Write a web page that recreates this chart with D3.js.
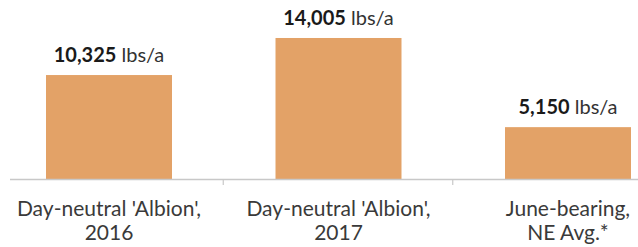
<!DOCTYPE html>
<html>
<head>
<meta charset="utf-8">
<script src="https://cdn.jsdelivr.net/npm/d3@7"></script>
<style>
  html, body { margin: 0; padding: 0; background: #fff; }
  svg { display: block; font-family: Lato, "Open Sans", sans-serif; }
</style>
</head>
<body>
<svg id="chart" width="638" height="247"></svg>
<script>
// data
const categories = ["Day-neutral 'Albion', 2016", "Day-neutral 'Albion', 2017", "June-bearing, NE Avg.*"];
const labelLines = [["Day-neutral 'Albion',", "2016"], ["Day-neutral 'Albion',", "2017"], ["June-bearing,", "NE Avg.*"]];
const yields = [10325, 14005, 5150];
const unit = "lbs/a";

const svg = d3.select("#chart");
const width  = +svg.attr("width");
const baseY = 179;

const x = d3.scaleBand().domain(categories).range([-5.75, 682.75]).paddingInner(0.451).paddingOuter(0.2255);
const y = d3.scaleLinear().domain([0, 16000]).range([baseY, baseY - 161.1]);

const rows = categories.map((c, i) => ({ cat: c, value: yields[i], lines: labelLines[i] }));

// bars
svg.selectAll("rect.bar").data(rows).join("rect")
  .attr("class", "bar")
  .attr("x", d => x(d.cat))
  .attr("y", d => y(d.value))
  .attr("width", x.bandwidth())
  .attr("height", d => baseY - y(d.value))
  .attr("fill", "#e3a267");

// axis line + ticks between categories
svg.append("line")
  .attr("x1", 10).attr("x2", width)
  .attr("y1", baseY + 0.5).attr("y2", baseY + 0.5)
  .attr("stroke", "#c8c8c8").attr("stroke-width", 1.5);

const step = x.step();
const tickXs = categories.slice(1).map(c => x(c) - step * x.paddingInner() / 2 - 0.5);
svg.selectAll("line.tick").data(tickXs).join("line")
  .attr("class", "tick")
  .attr("x1", d => d).attr("x2", d => d)
  .attr("y1", baseY).attr("y2", baseY + 6)
  .attr("stroke", "#c8c8c8").attr("stroke-width", 1.2);

// value labels
const vl = svg.selectAll("text.value").data(rows).join("text")
  .attr("class", "value")
  .attr("x", d => x(d.cat) + x.bandwidth() / 2)
  .attr("y", d => y(d.value) - 13)
  .attr("text-anchor", "middle")
  .attr("font-size", 20)
  .attr("fill", "#1a1a1a");
vl.append("tspan").attr("font-weight", "bold").text(d => d3.format(",")(d.value));
vl.append("tspan").attr("fill", "#333").text(" " + unit);

// category labels
const cl = svg.selectAll("text.cat").data(rows).join("text")
  .attr("class", "cat")
  .attr("text-anchor", "middle")
  .attr("font-size", 21)
  .attr("fill", "#3a3a3a");
cl.selectAll("tspan").data(d => d.lines.map((t, i) => ({ t, i, cx: x(d.cat) + x.bandwidth() / 2 }))).join("tspan")
  .attr("x", d => d.cx)
  .attr("y", d => 216 + d.i * 24)
  .text(d => d.t);
</script>
</body>
</html>
